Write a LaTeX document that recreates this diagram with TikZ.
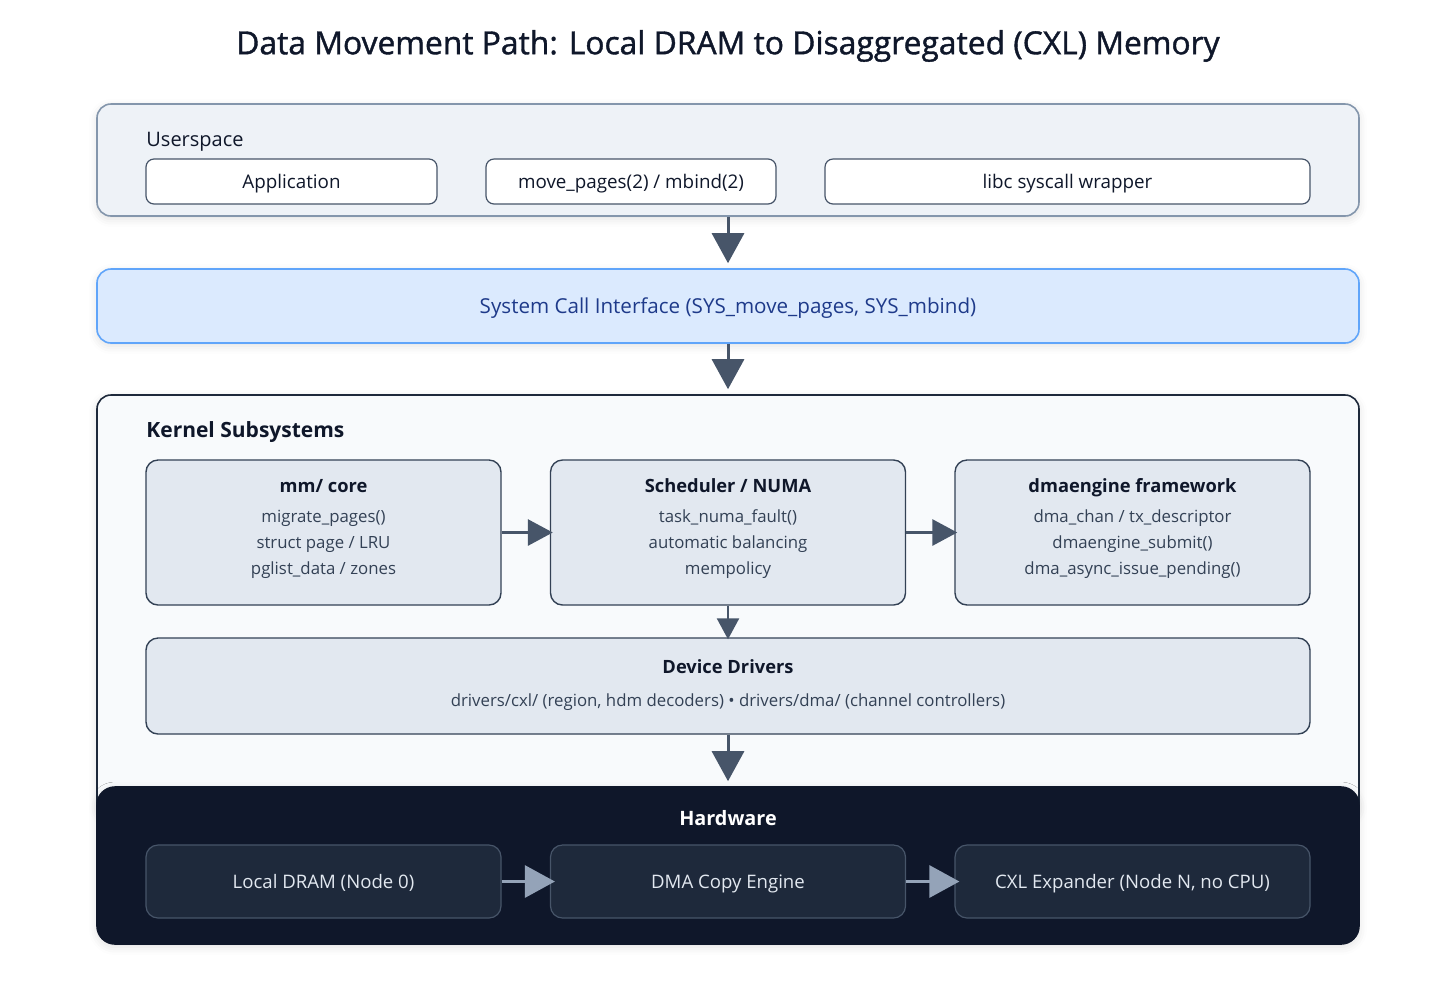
\documentclass[tikz,border=0pt]{standalone}
\usepackage{fontspec}
\setmainfont{Open Sans}
\newfontfamily\semib{Open Sans}[FakeBold=1.2]
\usepackage{tikz}
\usetikzlibrary{calc, positioning, arrows.meta, shadows.blur}
\usepackage{xcolor}
\definecolor{ink}{RGB}{15, 23, 42}
\definecolor{slateD}{RGB}{71, 85, 105}
\definecolor{slateE}{RGB}{51, 65, 85}
\definecolor{userFill}{RGB}{238, 242, 247}
\definecolor{userLine}{RGB}{132, 150, 172}
\definecolor{sysFill}{RGB}{219, 234, 254}
\definecolor{sysLine}{RGB}{96, 165, 250}
\definecolor{sysText}{RGB}{30, 58, 138}
\definecolor{kernFill}{RGB}{248, 250, 252}
\definecolor{kernLine}{RGB}{30, 41, 59}
\definecolor{subFill}{RGB}{226, 232, 240}
\definecolor{hwFill}{RGB}{15, 23, 42}
\definecolor{hwIn}{RGB}{30, 41, 59}
\definecolor{hwText}{RGB}{226, 232, 240}
\definecolor{hwArrow}{RGB}{148, 163, 184}

\begin{document}
\begin{tikzpicture}[x=0.5pt, y=-0.5pt, font=\small,
    every node/.style={text height=0.72em, text depth=0pt},
    layer/.style={draw, rounded corners=7pt, line width=0.8pt, minimum width=631pt,
      blur shadow={shadow xshift=0pt, shadow yshift=-1.5pt, shadow blur radius=4pt, shadow opacity=12}},
    userbox/.style={draw=slateD, fill=white, rounded corners=4pt, line width=0.6pt,
      minimum height=22.5pt, font=\fontsize{9.4}{11}\selectfont, text=ink},
    subbox/.style={draw=slateE, fill=subFill, rounded corners=6pt, line width=0.7pt,
      minimum width=177.5pt, minimum height=72.5pt},
    hwbox/.style={draw=slateD, fill=hwIn, rounded corners=6pt, line width=0.6pt,
      minimum width=177.5pt, minimum height=36.5pt, text=hwText, font=\fontsize{9.3}{11}\selectfont},
    ttl/.style={font=\fontsize{9.15}{12}\selectfont\bfseries, text=ink},
    ln/.style={font=\fontsize{8.4}{10}\selectfont, text=slateE},
    flow/.style={-{Triangle[width=16pt, length=15pt]}, line width=1.5pt, draw=slateD},
    step flow/.style={-{Triangle[width=13pt, length=12.5pt]}, line width=1.5pt, draw=slateD}]

  \useasboundingbox (0,0) rectangle (1456,1003);

  \node[font=\fontsize{15.9}{18}\selectfont\semib, text=ink] (title) at (728,47)
    {Data Movement Path: Local DRAM to Disaggregated (CXL) Memory};

  % userspace layer
  \node[layer, draw=userLine, fill=userFill, minimum height=56pt] (user) at (728,160) {};
  \node[anchor=west, inner sep=0pt, font=\fontsize{10}{12}\selectfont, text=ink] (userlbl) at (146,139) {Userspace};
  \node[userbox, minimum width=145.5pt] (app) at (291.5,181.5) {Application};
  \node[userbox, minimum width=145pt] (movep) at (631,181.5) {move\_pages(2) / mbind(2)};
  \node[userbox, minimum width=242.5pt] (libc) at (1067.5,181.5) {libc syscall wrapper};

  % syscall layer
  \node[layer, draw=sysLine, fill=sysFill, minimum height=37pt, text=sysText,
        font=\fontsize{10.3}{12}\selectfont] (sysc) at (728,306)
    {System Call Interface (SYS\_move\_pages, SYS\_mbind)};

  % kernel layer
  \node[layer, draw=kernLine, fill=kernFill, minimum height=211.5pt] (kern) at (728,606.5) {};
  \node[anchor=west, inner sep=0pt, font=\fontsize{10.5}{12}\selectfont\bfseries, text=ink] (kernlbl) at (146,430) {Kernel Subsystems};

  \foreach \nm/\x/\ttltext/\la/\lb/\lc in {
      mm/323.5/{mm/ core}/{migrate\_pages()}/{struct page / LRU}/{pglist\_data / zones},
      sched/728/{Scheduler / NUMA}/{task\_numa\_fault()}/{automatic balancing}/{mempolicy},
      dmaeng/1132.5/{dmaengine framework}/{dma\_chan / tx\_descriptor}/{dmaengine\_submit()}/{dma\_async\_issue\_pending()}} {
    \node[subbox] (\nm) at (\x,532.5) {};
    \node[ttl] (\nm-t) at (\x,485) {\ttltext};
    \node[ln] (\nm-a) at (\x,515) {\la};
    \node[ln] (\nm-b) at (\x,541) {\lb};
    \node[ln] (\nm-c) at (\x,567) {\lc};
  }

  \node[subbox, minimum width=582pt, minimum height=48pt] (drv) at (728,686) {};
  \node[ttl] (drv-t) at (728,666) {Device Drivers};
  \node[ln] (drv-a) at (728,699) {drivers/cxl/ (region, hdm decoders) • drivers/dma/ (channel controllers)};

  \draw[step flow, shorten >=-1.5pt] (mm) -- (sched);
  \draw[step flow, shorten >=-1.5pt] (sched) -- (dmaeng);
  \draw[-{Triangle[width=11pt, length=10.5pt]}, line width=1.2pt, draw=slateD, shorten >=-1pt] (sched) -- (drv);

  % hardware layer
  \node[layer, draw=hwFill, fill=hwFill, minimum height=78.5pt, rounded corners=9pt] (hw) at (728,865.5) {};
  \node[font=\fontsize{9.9}{12}\selectfont\bfseries, text=white] (hwlbl) at (728,818) {Hardware};
  \node[hwbox] (dram) at (323.5,881.5) {Local DRAM (Node 0)};
  \node[hwbox] (dmacp) at (728,881.5) {DMA Copy Engine};
  \node[hwbox] (cxl) at (1132.5,881.5) {CXL Expander (Node N, no CPU)};

  \draw[flow, draw=hwArrow, shorten >=-2.5pt] (dram) -- (dmacp);
  \draw[flow, draw=hwArrow, shorten >=-2.5pt] (dmacp) -- (cxl);

  % layer to layer
  \draw[flow, shorten >=2.5pt] (user) -- (sysc);
  \draw[flow, shorten >=2.5pt] (sysc) -- (kern);
  \draw[flow, shorten >=2.5pt] (drv) -- (hw.north);
\end{tikzpicture}
\end{document}
